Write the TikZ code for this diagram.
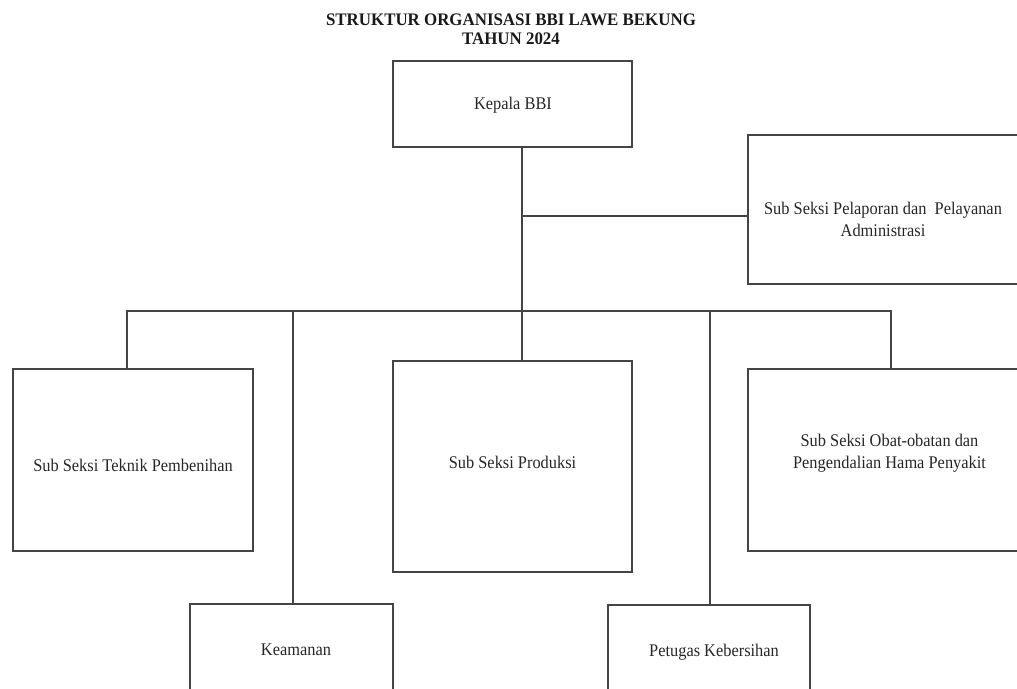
\documentclass[tikz,border=0pt]{standalone}
\usepackage{fontspec}
\setmainfont{Liberation Serif}
\newfontfamily\bodyfont[FakeStretch=0.92]{Liberation Serif}
\newfontfamily\titlefont[FakeStretch=0.96]{Liberation Serif}
\usetikzlibrary{calc}
\definecolor{ln}{RGB}{68,68,68}
\tikzset{
  box/.style={draw=ln, line width=1.1pt, inner sep=0pt, outer sep=0pt, fill=none},
  txt/.style={inner sep=0pt, align=center, font=\bodyfont\fontsize{17.8}{22}\selectfont, text=black!85},
  conn/.style={draw=ln, line width=1.1pt},
  ttl/.style={inner sep=0pt, align=center, font=\titlefont\bfseries\fontsize{17.6}{19}\selectfont, text=black!90}
}
\begin{document}
\begin{tikzpicture}[x=1pt,y=-1pt]
\useasboundingbox (0,0) rectangle (1017,688);
\clip (0,0) rectangle (1017,688);
\node[ttl] (title) at (511,29.5) {STRUKTUR ORGANISASI BBI LAWE BEKUNG\\TAHUN 2024};
% boxes
\node[box, minimum width=239pt, minimum height=86pt] (kepala) at (512.5,104) {};
\node[box, minimum width=270pt, minimum height=149pt] (pelaporan) at (883,209.5) {};
\node[box, minimum width=240pt, minimum height=182pt] (teknik) at (133,460) {};
\node[box, minimum width=239pt, minimum height=211pt] (produksi) at (512.5,466.5) {};
\node[box, minimum width=283pt, minimum height=182pt] (obat) at (889.5,460) {};
\node[box, minimum width=203pt, minimum height=90pt] (keamanan) at (291.5,649) {};
\node[box, minimum width=202pt, minimum height=90pt] (petugas) at (709,650) {};
% texts
\node[txt] (tkepala) at (513,105) {Kepala BBI};
\node[txt] (tpelaporan) at (883,219) {Sub Seksi Pelaporan dan \ Pelayanan\\Administrasi};
\node[txt] (tteknik) at (133,465) {Sub Seksi Teknik Pembenihan};
\node[txt] (tproduksi) at (512.5,462) {Sub Seksi Produksi};
\node[txt] (tobat) at (889.5,453) {Sub Seksi Obat-obatan dan\\Pengendalian Hama Penyakit};
\node[txt] (tkeamanan) at (296,650) {Keamanan};
\node[txt] (tpetugas) at (714,652) {Petugas Kebersihan};
% connectors
\coordinate (t) at (522,216);
\coordinate (bL) at (127,311);
\coordinate (bR) at (891,311);
\coordinate (bK) at (293,311);
\coordinate (bP) at (710,311);
\draw[conn] (kepala.south -| t) -- (produksi.north -| t);
\draw[conn] (t) -- (t -| pelaporan.west);
\draw[conn] (teknik.north -| bL) -- (bL) -- (bR) -- (obat.north -| bR);
\draw[conn] (bK) -- (keamanan.north -| bK);
\draw[conn] (bP) -- (petugas.north -| bP);
\end{tikzpicture}
\end{document}
